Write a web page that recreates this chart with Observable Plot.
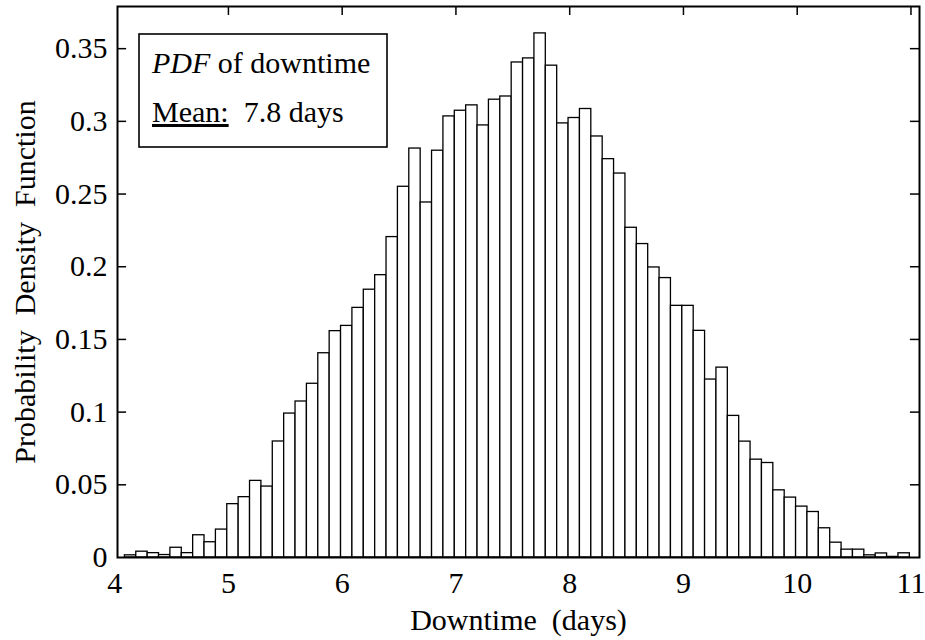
<!DOCTYPE html>
<html>
<head>
<meta charset="utf-8">
<script src="https://cdn.jsdelivr.net/npm/d3@7"></script>
<script src="https://cdn.jsdelivr.net/npm/@observablehq/plot@0.6"></script>
<style>
  html, body { margin: 0; padding: 0; background: #fff; }
  svg text { white-space: pre; }
</style>
</head>
<body>
<div id="chart"></div>
<script>
// Histogram bins (days) and probability density per bin
const binStart = 4.09;
const binWidth = 0.1;
const density = [
  0.0015, 0.0040, 0.0030, 0.0017, 0.0067, 0.0030, 0.0153, 0.0105, 0.0192, 0.0367,
  0.0415, 0.0527, 0.0488, 0.0798, 0.0990, 0.1073, 0.1195, 0.1405, 0.1557, 0.1593,
  0.1717, 0.1842, 0.1942, 0.2204, 0.2550, 0.2813, 0.2442, 0.2798, 0.3034, 0.3073,
  0.3110, 0.2972, 0.3149, 0.3171, 0.3405, 0.3433, 0.3605, 0.3383, 0.2986, 0.3023,
  0.3085, 0.2896, 0.2740, 0.2641, 0.2268, 0.2156, 0.1995, 0.1922, 0.1731, 0.1731,
  0.1559, 0.1224, 0.1306, 0.0974, 0.0797, 0.0673, 0.0650, 0.0462, 0.0412, 0.0350,
  0.0313, 0.0201, 0.0102, 0.0054, 0.0054, 0.0015, 0.0028, 0.0004, 0.0029
];
const xTicks = [4, 5, 6, 7, 8, 9, 10, 11];
const yTicks = [0, 0.05, 0.1, 0.15, 0.2, 0.25, 0.3, 0.35];
const xDomain = [4.025, 11.075];
const yDomain = [0, 0.379];
const xLabel = "Downtime  (days)";
const yLabel = "Probability  Density  Function";
const legendLine1 = ["PDF", " of downtime"];
const legendLine2 = ["Mean:", "  7.8 days"];

const bins = density.map((v, i) => ({
  x1: binStart + i * binWidth,
  x2: binStart + (i + 1) * binWidth,
  y: v
}));

const M = {left: 117, right: 6, top: 6, bottom: 83};
const font = "'Liberation Serif', 'Times New Roman', serif";
const tickLenX = 0.08;   // inward tick length in x units
const tickLenY = 0.0062; // inward tick length in y units
const innerX = xTicks.filter(d => d > xDomain[0] && d < xDomain[1]);
const innerY = yTicks.filter(d => d > yDomain[0] && d < yDomain[1]);

const svg = Plot.plot({
  width: 925,
  height: 640,
  marginLeft: M.left,
  marginRight: M.right,
  marginTop: M.top,
  marginBottom: M.bottom,
  style: {fontFamily: font, fontSize: "30px", color: "#000", background: "#fff"},
  x: {domain: xDomain},
  y: {domain: yDomain},
  marks: [
    // inward ticks (under the bars, as in the original)
    Plot.ruleY(innerY, {y: d => d, x1: xDomain[0], x2: xDomain[0] + tickLenX, stroke: "#000", strokeWidth: 1.5}),
    Plot.ruleY(innerY, {y: d => d, x1: xDomain[1] - tickLenX, x2: xDomain[1], stroke: "#000", strokeWidth: 1.5}),
    Plot.ruleX(innerX, {x: d => d, y1: yDomain[1], y2: yDomain[1] - tickLenY, stroke: "#000", strokeWidth: 1.5}),
    Plot.rectY(bins, {x1: "x1", x2: "x2", y: "y", fill: "#fff", stroke: "#000", strokeWidth: 1.3}),
    Plot.frame({stroke: "#000", strokeWidth: 2}),
    Plot.axisX({
      ticks: xTicks, tickSize: 0, tickPadding: 14, tickFormat: d => String(d),
      label: xLabel, labelAnchor: "center", labelArrow: "none", labelOffset: 72
    }),
    Plot.axisY({
      ticks: yTicks, tickSize: 0, tickPadding: 10, tickFormat: d => String(d),
      label: yLabel, labelAnchor: "center", labelArrow: "none", labelOffset: 104
    })
  ]
});

// Legend box in the upper left
const g = d3.select(svg).append("g")
  .attr("font-family", font).attr("font-size", 30).attr("text-anchor", "start");
g.append("rect")
  .attr("x", M.left + 22).attr("y", M.top + 28)
  .attr("width", 248).attr("height", 113)
  .attr("fill", "#fff").attr("stroke", "#000").attr("stroke-width", 1.6);
const t1 = g.append("text").attr("x", M.left + 35).attr("y", M.top + 67).attr("text-anchor", "start");
t1.append("tspan").attr("font-style", "italic").text(legendLine1[0]);
t1.append("tspan").text(legendLine1[1]);
const t2 = g.append("text").attr("x", M.left + 35).attr("y", M.top + 116).attr("text-anchor", "start");
t2.append("tspan").attr("text-decoration", "underline").text(legendLine2[0]);
t2.append("tspan").text(legendLine2[1]);

document.getElementById("chart").appendChild(svg);
</script>
</body>
</html>
